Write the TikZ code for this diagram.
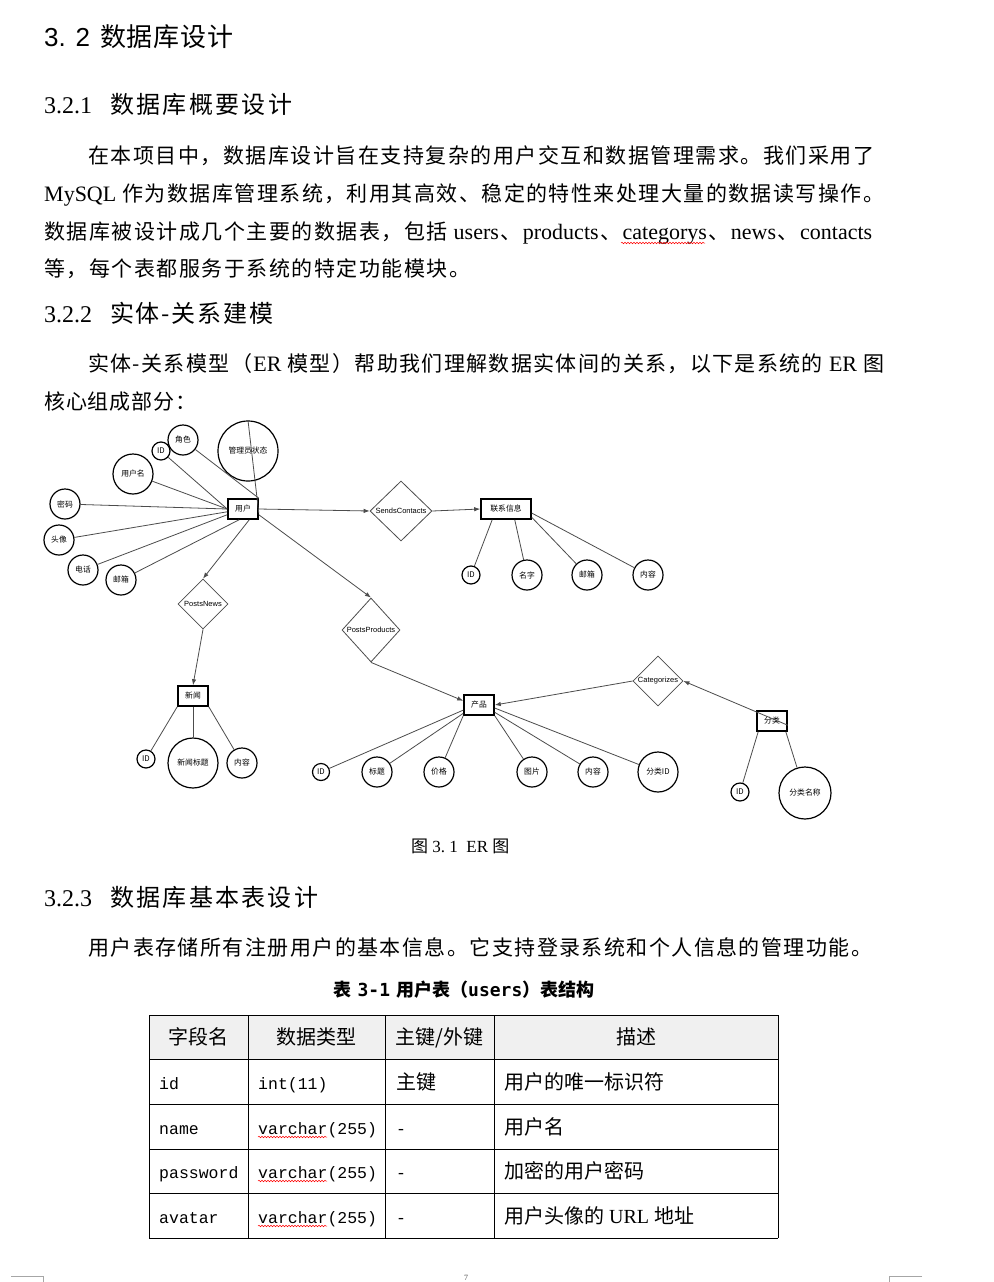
\documentclass[tikz,border=0pt]{standalone}
\usepackage{fontspec}
\usetikzlibrary{shapes.geometric,arrows.meta,decorations.pathmorphing}
\setmainfont{Liberation Serif}
\newfontfamily\cjk{Noto Sans CJK SC}
\newfontfamily\tnr{Liberation Serif}
\newfontfamily\arial{Liberation Sans}
\newfontfamily\mono{Liberation Mono}
\newfontfamily\hmono{DejaVu Sans Mono}
\newcommand\lat[1]{{\tnr\fontsize{22}{24}\selectfont #1}}
\newcommand\erfont{\cjk\fontsize{7.8}{9}\selectfont}
\newcommand\erlat{\arial\fontsize{7.5}{9}\selectfont}
\ExplSyntaxOn
\NewDocumentCommand \spreadline { m m }
  { \makebox[#1][l]{ \tl_map_inline:nn {#2} { ##1 \hfill } \unskip } }
\ExplSyntaxOff
\tikzset{
  body/.style={anchor=base west, inner sep=0, font=\cjk\fontsize{21}{24}\selectfont},
  hnum/.style={anchor=base west, inner sep=0, font=\tnr\fontsize{24}{26}\selectfont},
  htxt/.style={anchor=base west, inner sep=0, font=\cjk\fontsize{24}{26}\selectfont},
  ent/.style={draw=black, line width=1.6pt, minimum height=20pt, inner sep=0, font=\erfont},
  attr/.style={circle, draw=black, line width=1.2pt, inner sep=0, font=\erfont},
  rel/.style={diamond, draw=black!70, line width=0.8pt, inner sep=0},
  rellab/.style={inner sep=0, font=\erlat},
  conn/.style={draw=black!70, line width=0.8pt},
  arr/.style={conn, -{Latex[length=6pt,width=4.5pt]}},
  thead/.style={anchor=base, inner sep=0, font=\cjk\fontsize{20}{22}\selectfont},
  tcell/.style={anchor=base west, inner sep=0, font=\cjk\fontsize{20}{22}\selectfont},
  tmono/.style={anchor=base west, inner sep=0, font=\mono\fontsize{16.5}{20}\selectfont},
  squig/.style={red, line width=0.5pt, decorate, decoration={snake, amplitude=0.8pt, segment length=3pt}},
  tline/.style={black, line width=0.9pt},
  cornermark/.style={black!35, line width=0.8pt}
}
\begin{document}
\begin{tikzpicture}[x=1pt,y=-1pt]
\fill[white] (0,0) rectangle (993,1282);
\useasboundingbox (0,0) rectangle (993,1282);

% headings
\node[anchor=base west, inner sep=0, font=\arial\fontsize{26}{28}\selectfont] (h1n) at (44,46) {3. 2};
\node[anchor=base west, inner sep=0, font=\cjk\fontsize{26}{28}\selectfont] (h1t) at (100,46) {\spreadline{133pt}{数据库设计}};
\node[hnum] (h2n) at (44,113) {3.2.1};
\node[htxt] (h2t) at (110,113) {\spreadline{182pt}{数据库概要设计}};

% paragraph
\node[body] (p1) at (88,163) {\spreadline{786pt}{在本项目中，数据库设计旨在支持复杂的用户交互和数据管理需求。我们采用了}};
\node[body] (p2) at (44,201) {\spreadline{840pt}{{\lat{MySQL}\ }作为数据库管理系统，利用其高效、稳定的特性来处理大量的数据读写操作。}};
\node[body] (p3) at (44,239) {\spreadline{828pt}{数据库被设计成几个主要的数据表，包括{\ \lat{users}}、{\lat{products}}、{\lat{categorys}}、{\lat{news}}、{\lat{contacts}}}};
\node[body] (p4) at (44,276) {\spreadline{426pt}{等，每个表都服务于系统的特定功能模块。}};
\draw[squig] (621,243) -- (705,243);

\node[hnum] (h3n) at (44,322) {3.2.2};
\node[htxt] (h3t) at (110,322) {\spreadline{163pt}{实体-关系建模}};

\node[body] (p5) at (88,371) {\spreadline{796pt}{实体-关系模型（{\lat{ER}\ }模型）帮助我们理解数据实体间的关系，以下是系统的{\ \lat{ER}\ }图}};
\node[body] (p6) at (44,409) {\spreadline{152pt}{核心组成部分：}};

% ===== ER diagram =====
% entities
\node[ent, minimum width=30pt] (user) at (243,509) {用户};
\node[ent, minimum width=50pt] (ci) at (506,509) {联系信息};
\node[ent, minimum width=30pt] (news) at (193,696) {新闻};
\node[ent, minimum width=30pt] (prod) at (479,705) {产品};
\node[ent, minimum width=30pt] (fl) at (772,721) {分类};

% relationships
\node[rel, minimum width=62pt, minimum height=60pt] (sc) at (401,511) {};
\node[rellab] (scl) at (sc) {SendsContacts};
\node[rel, minimum width=50pt, minimum height=50pt] (pn) at (203,604) {};
\node[rellab] (pnl) at (pn) {PostsNews};
\node[rel, minimum width=58pt, minimum height=64pt] (pp) at (371,630) {};
\node[rellab] (ppl) at (pp) {PostsProducts};
\node[rel, minimum width=50pt, minimum height=50pt] (cat) at (658,681) {};
\node[rellab] (catl) at (cat) {Categorizes};

% user attributes
\node[attr, minimum size=30pt] (u_role) at (183,440) {角色};
\node[attr, minimum size=18pt] (u_id) at (161,451) {ID};
\node[attr, minimum size=60pt] (u_mgr) at (248,451) {管理员状态};
\node[attr, minimum size=40pt] (u_name) at (133,474) {用户名};
\node[attr, minimum size=30pt] (u_pwd) at (65,504) {密码};
\node[attr, minimum size=30pt] (u_ava) at (59,540) {头像};
\node[attr, minimum size=30pt] (u_tel) at (83,570) {电话};
\node[attr, minimum size=30pt] (u_mail) at (121,580) {邮箱};

% contact attributes
\node[attr, minimum size=18pt] (c_id) at (471,575) {ID};
\node[attr, minimum size=30pt] (c_name) at (527,575) {名字};
\node[attr, minimum size=30pt] (c_mail) at (587,575) {邮箱};
\node[attr, minimum size=30pt] (c_cont) at (648,575) {内容};

% news attributes
\node[attr, minimum size=18pt] (n_id) at (146,759) {ID};
\node[attr, minimum size=50pt] (n_title) at (193,763) {新闻标题};
\node[attr, minimum size=30pt] (n_cont) at (242,763) {内容};

% product attributes
\node[attr, minimum size=17pt] (p_id) at (321,772) {ID};
\node[attr, minimum size=30pt] (p_title) at (377,772) {标题};
\node[attr, minimum size=30pt] (p_price) at (439,772) {价格};
\node[attr, minimum size=30pt] (p_img) at (532,772) {图片};
\node[attr, minimum size=30pt] (p_cont) at (593,772) {内容};
\node[attr, minimum size=40pt] (p_cid) at (658,772) {分类ID};

% category attributes
\node[attr, minimum size=18pt] (f_id) at (740,792) {ID};
\node[attr, minimum size=52pt] (f_name) at (805,793) {分类名称};

% connectors
\draw[conn] (u_role) -- (user.north east);
\draw[conn] (u_id) -- (user.west);
\draw[conn] (u_mgr.north) -- (user.-15);
\draw[conn] (u_name) -- (user.west);
\draw[conn] (u_pwd) -- (user.west);
\draw[conn] (u_ava) -- (user.-170);
\draw[conn] (u_tel) -- (user.-160);
\draw[conn] (u_mail) -- (user.-110);
\draw[arr] (user.east) -- (sc.west);
\draw[arr] (user.-60) -- (pn.north);
\draw[arr] (user.-20) -- (pp.north);
\draw[arr] (sc.east) -- (ci.west);
\draw[conn] (ci.-142) -- (c_id);
\draw[conn] (ci.-51) -- (c_name);
\draw[conn] (ci.-18) -- (c_mail);
\draw[conn] (ci.-9) -- (c_cont);
\draw[arr] (pn.south) -- (news.north);
\draw[conn] (news.south west) -- (n_id);
\draw[conn] (news.south) -- (n_title);
\draw[conn] (news.south east) -- (n_cont);
\draw[arr] (pp.south) -- (prod.165);
\draw[arr] (cat.west) -- (prod.east);
\draw[arr] (fl.-15) -- (cat.east);
\draw[conn] (prod.-162) -- (p_id);
\draw[conn] (prod.-152) -- (p_title);
\draw[conn] (prod.south west) -- (p_price);
\draw[conn] (prod.south east) -- (p_img);
\draw[conn] (prod.-25) -- (p_cont);
\draw[conn] (prod.-11) -- (p_cid);
\draw[conn] (fl.-142) -- (f_id);
\draw[conn] (fl.-38) -- (f_name);

% figure caption
\node[anchor=base west, inner sep=0, font=\fontsize{17}{19}\selectfont] (figcap) at (411,852) {{\cjk 图}\ {\tnr 3.\ 1}\ \ {\tnr ER}\ {\cjk 图}};

% 3.2.3
\node[hnum] (h4n) at (44,906) {3.2.3};
\node[htxt] (h4t) at (110,906) {\spreadline{208pt}{数据库基本表设计}};
\node[body] (p7) at (88,955) {\spreadline{784pt}{用户表存储所有注册用户的基本信息。它支持登录系统和个人信息的管理功能。}};

% table caption
\node[anchor=base, inner sep=0, font=\cjk\bfseries\fontsize{18}{20}\selectfont] (tcap) at (464,996) {表\hspace{6pt}{\hmono\bfseries 3-1}\hspace{6pt}用户表（{\hmono\bfseries users}）表结构};

% table
\fill[black!6] (149,1015) rectangle (778,1059);
\foreach \yy in {1015,1059,1104,1149,1193,1238} \draw[tline] (149,\yy) -- (778,\yy);
\foreach \xx in {149,248,385,494,778} \draw[tline] (\xx,1015) -- (\xx,1238);

\node[thead] (th1) at (198.5,1044) {字段名};
\node[thead] (th2) at (316.5,1044) {数据类型};
\node[thead] (th3) at (439.5,1044) {主键/外键};
\node[thead] (th4) at (636,1044) {描述};

\node[tmono] (r1a) at (159,1089) {id};
\node[tmono] (r1b) at (258,1089) {int(11)};
\node[tcell] (r1c) at (396,1089) {主键};
\node[tcell] (r1d) at (504,1089) {用户的唯一标识符};

\node[tmono] (r2a) at (159,1134) {name};
\node[tmono] (r2b) at (258,1134) {varchar(255)};
\node[tmono] (r2c) at (396,1134) {-};
\node[tcell] (r2d) at (504,1134) {用户名};

\node[tmono] (r3a) at (159,1178) {password};
\node[tmono] (r3b) at (258,1178) {varchar(255)};
\node[tmono] (r3c) at (396,1178) {-};
\node[tcell] (r3d) at (504,1178) {加密的用户密码};

\node[tmono] (r4a) at (159,1223) {avatar};
\node[tmono] (r4b) at (258,1223) {varchar(255)};
\node[tmono] (r4c) at (396,1223) {-};
\node[tcell] (r4d) at (504,1223) {用户头像的{\tnr\ URL\ }地址};

\draw[squig] (258,1137) -- (327,1137);
\draw[squig] (258,1181) -- (327,1181);
\draw[squig] (258,1226) -- (327,1226);

% footer marks
\draw[cornermark] (11,1276) -- (43,1276) -- (43,1282);
\draw[cornermark] (922,1276) -- (889,1276) -- (889,1282);
\node[inner sep=0, font=\tnr\fontsize{8}{9}\selectfont, text=black!70] (pg) at (466,1277.5) {7};
\end{tikzpicture}
\end{document}
